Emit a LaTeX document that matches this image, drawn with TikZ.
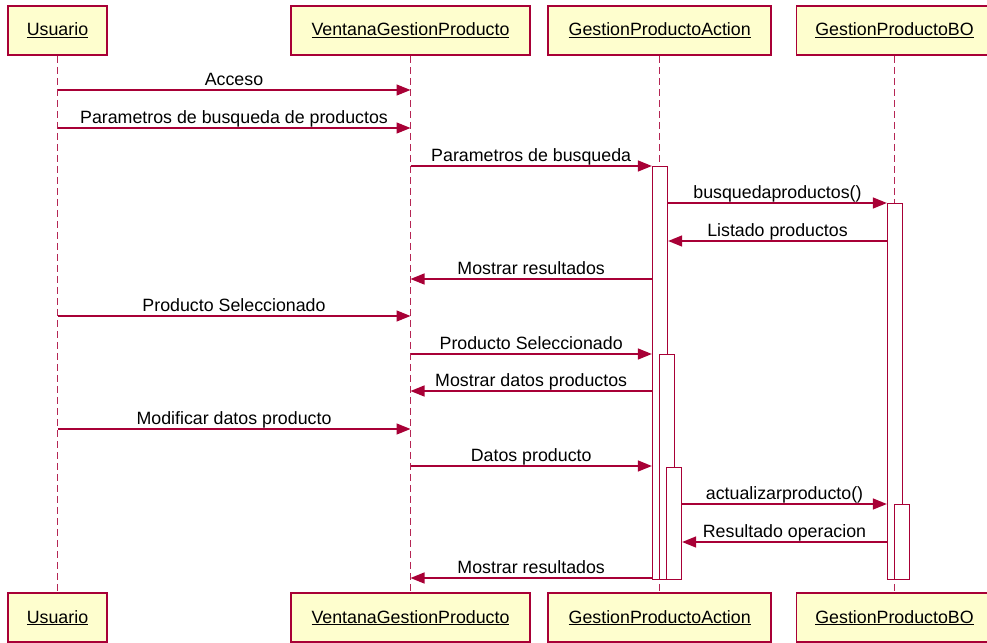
\documentclass[tikz,border=0pt]{standalone}
\usepackage{fontspec}
\setmainfont{Liberation Sans}
\usetikzlibrary{arrows.meta}
\definecolor{umlred}{HTML}{A80036}
\definecolor{umlfill}{HTML}{FEFECE}
% underlined participant name with a firm rule
\newcommand\ulname[1]{\setbox0\hbox{#1}\rlap{\rule[-1.9pt]{\wd0}{1.1pt}}\box0}
\begin{document}
\begin{tikzpicture}[x=1pt,y=-1pt,
  every node/.style={font=\fontsize{17.8}{21}\selectfont},
  actor/.style={draw=umlred, fill=umlfill, line width=1.5pt, minimum height=49pt, inner sep=0pt},
  lifeline/.style={draw=umlred!85, dash pattern=on 7pt off 4pt, line width=1.3pt},
  actbar/.style={draw=umlred, fill=white, line width=1.3pt, inner sep=0pt, minimum width=15pt, anchor=north},
  msg/.style={draw=umlred, line width=1.4pt, -{Triangle[length=14pt,width=11pt]}},
  lbl/.style={midway, anchor=base, yshift=4.5pt, inner sep=0pt, text=black}]
\useasboundingbox (0,0) rectangle (987,642);

% participants, top and bottom
\node[actor, minimum width=99pt]  (u1) at (57.5,30.5)  {\ulname{Usuario}};
\node[actor, minimum width=239pt] (v1) at (410.5,30.5) {\ulname{VentanaGestionProducto}};
\node[actor, minimum width=223pt] (a1) at (659.7,30.5) {\ulname{GestionProductoAction}};
\node[actor, minimum width=196pt] (b1) at (894.5,30.5) {\ulname{GestionProductoBO}};
\node[actor, minimum width=99pt]  (u2) at (57.5,617.5)  {\ulname{Usuario}};
\node[actor, minimum width=239pt] (v2) at (410.5,617.5) {\ulname{VentanaGestionProducto}};
\node[actor, minimum width=223pt] (a2) at (659.7,617.5) {\ulname{GestionProductoAction}};
\node[actor, minimum width=196pt] (b2) at (894.5,617.5) {\ulname{GestionProductoBO}};

% lifelines
\draw[lifeline] (u1.south) -- (u2.north);
\draw[lifeline] (v1.south) -- (v2.north);
\draw[lifeline] (a1.south) -- (a2.north);
\draw[lifeline] (b1.south) -- (b2.north);

% activation bars
\node[actbar, minimum height=413pt] (act1) at (660,166) {};
\node[actbar, minimum height=225pt] (act2) at (667,354) {};
\node[actbar, minimum height=112pt] (act3) at (674,467) {};
\node[actbar, minimum height=376pt] (bo1)  at (895,203) {};
\node[actbar, minimum height=75pt]  (bo2)  at (902,504) {};

% message rows
\coordinate (r1) at (0,90);
\coordinate (r2) at (0,128);
\coordinate (r3) at (0,166);
\coordinate (r4) at (0,203);
\coordinate (r5) at (0,241);
\coordinate (r6) at (0,279);
\coordinate (r7) at (0,316);
\coordinate (r8) at (0,354);
\coordinate (r9) at (0,391);
\coordinate (r10) at (0,429);
\coordinate (r11) at (0,466);
\coordinate (r12) at (0,504);
\coordinate (r13) at (0,542);
\coordinate (r14) at (0,578);

% messages
\draw[msg] (u1 |- r1) -- node[lbl]{Acceso} (v1 |- r1);
\draw[msg] (u1 |- r2) -- node[lbl]{Parametros de busqueda de productos} (v1 |- r2);
\draw[msg] (v1 |- r3) -- node[lbl]{Parametros de busqueda} (act1.west |- r3);
\draw[msg] (act1.east |- r4) -- node[lbl]{busquedaproductos()} (bo1.west |- r4);
\draw[msg] (bo1.west |- r5) -- node[lbl]{Listado productos} (act1.east |- r5);
\draw[msg] (act1.west |- r6) -- node[lbl]{Mostrar resultados} (v1 |- r6);
\draw[msg] (u1 |- r7) -- node[lbl]{Producto Seleccionado} (v1 |- r7);
\draw[msg] (v1 |- r8) -- node[lbl]{Producto Seleccionado} (act1.west |- r8);
\draw[msg] (act1.west |- r9) -- node[lbl]{Mostrar datos productos} (v1 |- r9);
\draw[msg] (u1 |- r10) -- node[lbl]{Modificar datos producto} (v1 |- r10);
\draw[msg] (v1 |- r11) -- node[lbl]{Datos producto} (act1.west |- r11);
\draw[msg] (act3.east |- r12) -- node[lbl]{actualizarproducto()} (bo1.west |- r12);
\draw[msg] (bo1.west |- r13) -- node[lbl]{Resultado operacion} (act3.east |- r13);
\draw[msg] (act1.west |- r14) -- node[lbl]{Mostrar resultados} (v1 |- r14);
\end{tikzpicture}
\end{document}
